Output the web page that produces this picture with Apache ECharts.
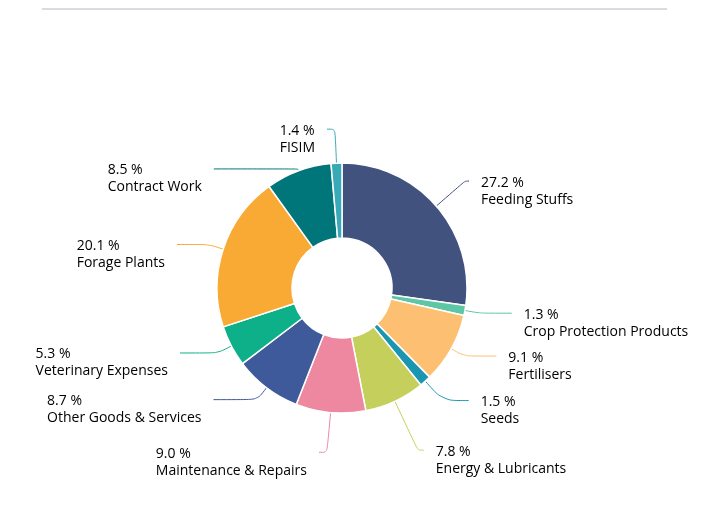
<!DOCTYPE html>
<html>
<head>
<meta charset="utf-8">
<script src="https://cdn.jsdelivr.net/npm/echarts@6/dist/echarts.min.js"></script>
<style>
html,body{margin:0;padding:0;background:#fff;}
#main{width:707px;height:516px;}
</style>
</head>
<body>
<div id="main"></div>
<script>
// categories, clockwise from 12 o'clock
var names=['Feeding Stuffs','Crop Protection Products','Fertilisers','Seeds','Energy & Lubricants','Maintenance & Repairs','Other Goods & Services','Veterinary Expenses','Forage Plants','Contract Work','FISIM'];
var shares=[27.2,1.3,9.1,1.5,7.8,9.0,8.7,5.3,20.1,8.5,1.4];//percent
var colors=['#41527f','#5cc6a5','#fdbf72','#1a96b0','#c5cf5c','#ee88a0','#3e5a9b','#0db088','#f9aa35','#00757a','#38a9b7'];

// connector lengths [radial, horizontal] where the default does not fit
var lineLen={
    'Feeding Stuffs':[38,4],
    'Seeds':[26,26],
    'Energy & Lubricants':[54,6],
    'Maintenance & Repairs':[40,8],
    'Other Goods & Services':[15,44],
    'Veterinary Expenses':[15,38],
    'Forage Plants':[15,32],
    'Contract Work':[2,84],
    'FISIM':[34,8]
};

var mychart=echarts.init(document.getElementById('main'));

var pieData=[];
for(var i=0;i<names.length;i++){
    var item={name:names[i],value:shares[i],itemStyle:{color:colors[i]}};
    if(lineLen[names[i]]){
        item.labelLine={length:lineLen[names[i]][0],length2:lineLen[names[i]][1]};
    }
    pieData.push(item);
}

var option={
    animation:false,
    graphic:[{
        type:'line',
        shape:{x1:42,y1:9,x2:667,y2:9},
        style:{stroke:'#cbd1d6',lineWidth:1.5}
    }],
    series:[{
        type:'pie',
        center:[342,288],
        radius:[50,125],
        startAngle:90,
        clockwise:true,
        itemStyle:{borderColor:'#fff',borderWidth:1.5},
        label:{
            show:true,
            padding:[20,0,0,0],
            distanceToLabelLine:12,
            formatter:function(p){
                return '{a|'+p.value.toFixed(1)+' %}\n{a|'+p.name+'}';
            },
            rich:{
                a:{align:'left',fontFamily:'Open Sans',fontSize:14,lineHeight:17,color:'#000'}
            }
        },
        labelLine:{
            show:true,
            length:15,
            length2:32,
            smooth:true,
            lineStyle:{width:1}
        },
        emphasis:{disabled:true},
        data:pieData
    }]
};

mychart.setOption(option);
</script>
</body>
</html>
